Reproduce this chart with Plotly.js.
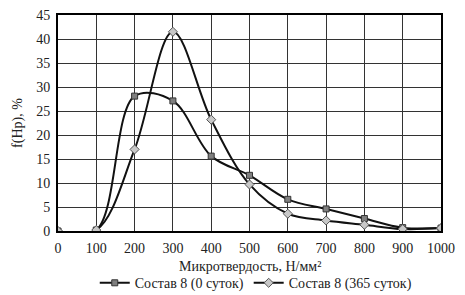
<!DOCTYPE html>
<html><head><meta charset="utf-8">
<script src="https://cdn.plot.ly/plotly-3.0.1.min.js"></script>
<style>html,body{margin:0;padding:0;background:#fff}#c{width:465px;height:295px}</style>
</head><body><div id="c"></div>
<script>
const xVals = [0,100,200,300,400,500,600,700,800,900,1000];
const s0Name = 'Состав 8 (0 суток)';
const s0 = [0,0.2,28.1,27.1,15.6,11.6,6.6,4.6,2.6,0.7,0.6];
const s365Name = 'Состав 8 (365 суток)';
const s365 = [0,0.2,17.0,41.5,23.2,9.7,3.6,2.2,1.3,0.4,0.6];
const xTicks = [0,100,200,300,400,500,600,700,800,900,1000];
const yTicks = [0,5,10,15,20,25,30,35,40,45];
const xTitle = 'Микротвердость, Н/мм²';
const yTitle = 'f(Hp), %';
const font = {family:'Times New Roman, Liberation Serif, serif', size:14, color:'#222'};
const traces = [
 {x:xVals,y:s0,name:s0Name,mode:'lines+markers',line:{color:'#111',width:2,shape:'spline',smoothing:1},
  marker:{symbol:'square',size:6,color:'#7f7f7f',line:{color:'#333',width:1}}},
 {x:xVals,y:s365,name:s365Name,mode:'lines+markers',line:{color:'#111',width:2,shape:'spline',smoothing:1},
  marker:{symbol:'diamond',size:7,color:'#c8c8c8',line:{color:'#555',width:1}}}
];
const layout = {
 width:465,height:295,margin:{l:58,r:24,t:15,b:64,autoexpand:false},
 paper_bgcolor:'#fff',plot_bgcolor:'#fff',font:font,showlegend:true,
 xaxis:{range:[0,1000],tickvals:xTicks,ticktext:xTicks.map(String),showgrid:true,gridcolor:'#333',gridwidth:1,
  zeroline:false,showline:true,linecolor:'#000',linewidth:2,mirror:true,ticks:'',automargin:false,ticklabelstandoff:3,
  tickfont:font},
 yaxis:{range:[0,45],tickvals:yTicks,ticktext:yTicks.map(String),showgrid:true,gridcolor:'#333',gridwidth:1,
  zeroline:false,showline:true,linecolor:'#000',linewidth:2,mirror:true,ticks:'',automargin:false,ticklabelstandoff:3,
  tickfont:font,title:{text:yTitle,font:font,standoff:10}},
 annotations:[{text:xTitle,xref:'paper',yref:'paper',x:0.5,y:-0.165,xanchor:'center',yanchor:'middle',showarrow:false,font:font}],
 legend:{orientation:'h',x:0.55,xanchor:'center',xref:'container',y:0.04,yanchor:'middle',yref:'container',font:font,itemwidth:30,tracegroupgap:0}
};
Plotly.newPlot('c',traces,layout,{displayModeBar:false,staticPlot:true});
</script></body></html>
